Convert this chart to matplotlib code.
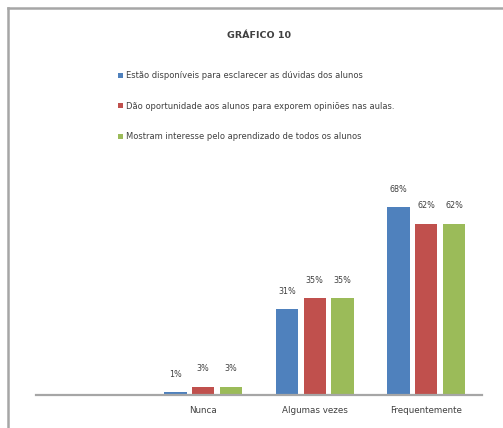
import matplotlib
matplotlib.use("Agg")
import matplotlib.pyplot as plt
from matplotlib.lines import Line2D
import numpy as np

# categories (first slot is empty on the axis)
categories = ['', 'Nunca', 'Algumas vezes', 'Frequentemente']
series_names = [
    'Estão disponíveis para esclarecer as dúvidas dos alunos',
    'Dão oportunidade aos alunos para exporem opiniões nas aulas.',
    'Mostram interesse pelo aprendizado de todos os alunos',
]
disponiveis = [np.nan, 1, 31, 68]
oportunidade = [np.nan, 3, 35, 62]
interesse = [np.nan, 3, 35, 62]
colors = ['#4F81BD', '#C0504D', '#9BBB59']

W, H = 503, 428
fig = plt.figure(figsize=(W / 100, H / 100), dpi=100)
fig.patch.set_facecolor('white')

txt = '#404040'

# plot area: baseline at y=395px, x from 36 to 482px
ax = fig.add_axes([36 / W, (H - 395) / H, 446 / W, 205 / H])
x = np.arange(len(categories))
width = 0.2
offsets = [-0.25, 0.0, 0.25]
handles = []
for vals, off, col, name in zip([disponiveis, oportunidade, interesse], offsets, colors, series_names):
    bars = ax.bar(x + off, vals, width, color=col, label=name, zorder=2)
    handles.append(bars)
    for xi, v in zip(x, vals):
        if np.isnan(v):
            continue
        ax.annotate(f'{v:.0f}%', (xi + off, v), xytext=(0, 13), textcoords='offset points',
                    ha='center', va='center', fontsize=5.8, color=txt)

ax.set_xlim(-0.5, len(categories) - 0.5)
ax.set_ylim(0, 205 / 2.76)
ax.set_xticks(x)
ax.set_xticklabels(categories, fontsize=6.3, color=txt)
ax.tick_params(axis='x', length=0, pad=8)
ax.set_yticks([])
for s in ['left', 'right', 'top']:
    ax.spines[s].set_visible(False)
ax.spines['bottom'].set_color('#A6A6A6')
ax.spines['bottom'].set_linewidth(1.6)
ax.spines['bottom'].set_zorder(3)

fig.text(259 / W, 1 - 35 / H, 'GRÁFICO 10', ha='center', va='center',
         fontsize=6.8, fontweight='bold', color=txt)

leg = fig.legend(handles=handles, loc='upper left', bbox_to_anchor=(118 / W, 1 - 71 / H),
                 frameon=False, fontsize=6, labelspacing=2.6, handlelength=0.55,
                 handleheight=0.55, handletextpad=0.35, borderaxespad=0, borderpad=0)
for t in leg.get_texts():
    t.set_color(txt)

# chart frame (left and top edges)
fig.add_artist(Line2D([7.5 / W, 7.5 / W], [0, 1 - 8 / H], color='#A6A6A6', lw=1.8))
fig.add_artist(Line2D([7.5 / W, 1], [1 - 8 / H, 1 - 8 / H], color='#A6A6A6', lw=1.8))

fig.savefig('out.png', dpi=100, facecolor='white')
